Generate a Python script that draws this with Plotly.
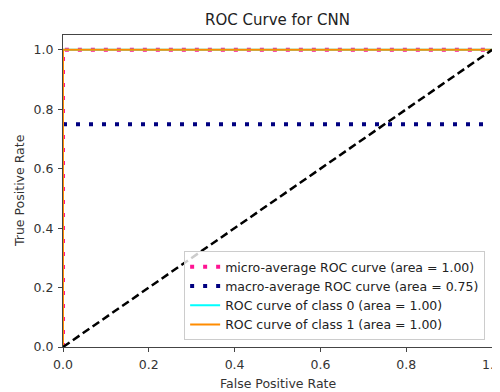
import plotly.graph_objects as go

# Data
micro_fpr = [0.0, 0.0, 1.0]
micro_tpr = [0.0, 1.0, 1.0]
macro_fpr = [0.0, 1.0]
macro_tpr = [0.75, 0.75]
class0_fpr = [0.0, 0.0, 1.0]
class0_tpr = [0.0, 1.0, 1.0]
class1_fpr = [0.0, 0.0, 1.0]
class1_tpr = [0.0, 1.0, 1.0]
diag_x = [0.0, 1.0]
diag_y = [0.0, 1.0]
ticks = [0.0, 0.2, 0.4, 0.6, 0.8, 1.0]
tick_text = ["0.0", "0.2", "0.4", "0.6", "0.8", "1.0"]

font = "DejaVu Sans"
fs = 12.5

fig = go.Figure()
fig.add_trace(go.Scatter(x=micro_fpr, y=micro_tpr, mode="lines",
                         name="micro-average ROC curve (area = 1.00)",
                         line=dict(color="deeppink", width=4, dash="4px,9px")))
fig.add_trace(go.Scatter(x=macro_fpr, y=macro_tpr, mode="lines",
                         name="macro-average ROC curve (area = 0.75)",
                         line=dict(color="navy", width=4, dash="4px,9px")))
fig.add_trace(go.Scatter(x=class0_fpr, y=class0_tpr, mode="lines",
                         name="ROC curve of class 0 (area = 1.00)",
                         line=dict(color="aqua", width=2)))
fig.add_trace(go.Scatter(x=class1_fpr, y=class1_tpr, mode="lines",
                         name="ROC curve of class 1 (area = 1.00)",
                         line=dict(color="darkorange", width=2)))
fig.add_trace(go.Scatter(x=diag_x, y=diag_y, mode="lines", showlegend=False,
                         line=dict(color="black", width=2.5, dash="8px,4px")))

axis_common = dict(
    showgrid=False, zeroline=False, showline=True, linecolor="#444444",
    linewidth=1.2, mirror=True, ticks="outside", ticklen=4, tickcolor="#444444",
    tickfont=dict(family=font, size=fs, color="#333333"),
    tickvals=ticks, ticktext=tick_text, ticklabelstandoff=2,
    automargin=False,
)

fig.update_layout(
    width=500, height=392,
    margin=dict(l=55, r=16, t=27, b=53),
    paper_bgcolor="white", plot_bgcolor="white",
    title=dict(text="ROC Curve for CNN", x=0.5, xanchor="center", xref="paper",
               y=1 - 12 / 392, yref="container", yanchor="middle",
               font=dict(family=font, size=15, color="#222222")),
    xaxis=dict(range=[0, 1.0], **axis_common),
    yaxis=dict(range=[0, 1.05], **axis_common),
    legend=dict(x=0.984, y=0.022, xanchor="right", yanchor="bottom",
                bgcolor="rgba(255,255,255,0.8)", bordercolor="#cccccc", borderwidth=1,
                font=dict(family=font, size=fs, color="#222222"),
                itemwidth=30, tracegroupgap=0),
    showlegend=True,
    annotations=[
        dict(text="False Positive Rate", xref="paper", yref="paper", x=0.5, y=0,
             xanchor="center", yanchor="middle", yshift=-36, showarrow=False,
             font=dict(family=font, size=fs, color="#333333")),
        dict(text="True Positive Rate", xref="paper", yref="paper", x=0, y=0.5,
             xanchor="center", yanchor="middle", xshift=-44, textangle=-90,
             showarrow=False, font=dict(family=font, size=fs, color="#333333")),
    ],
)

fig.write_html("out.html")
